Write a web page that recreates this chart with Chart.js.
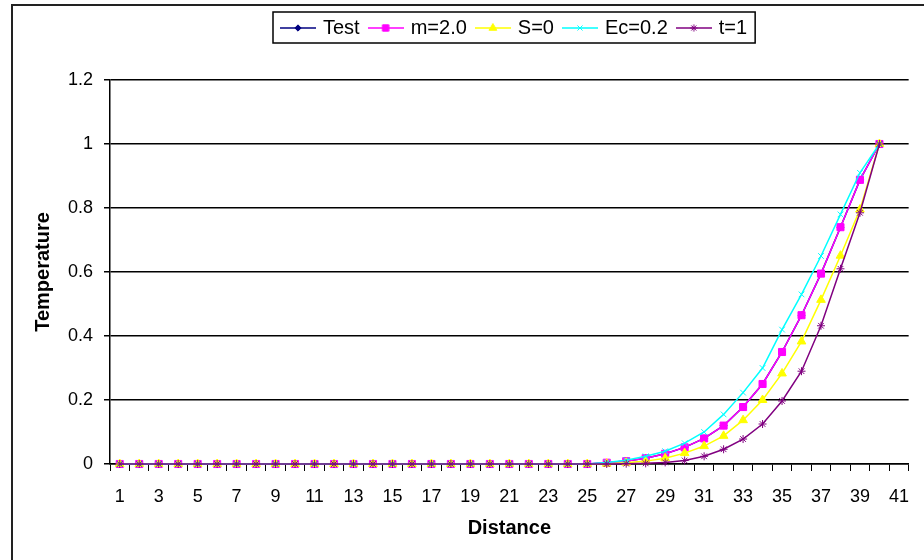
<!DOCTYPE html>
<html lang="en">
<head>
  <meta charset="UTF-8">
  <title>Temperature vs Distance</title>
  <script src="https://cdn.jsdelivr.net/npm/chart.js"></script>
  <style>
    html, body {
      margin: 0;
      padding: 0;
      background: #fff;
    }
    #wrap {
      width: 924px;
      height: 560px;
      position: relative;
    }
  </style>
</head>
<body>
  <div id="wrap"><canvas id="chart"></canvas></div>

  <script>
    // distance categories (the last one carries no data)
    const distance = ['1','2','3','4','5','6','7','8','9','10',
                      '11','12','13','14','15','16','17','18','19','20',
                      '21','22','23','24','25','26','27','28','29','30',
                      '31','32','33','34','35','36','37','38','39','40','41'];

    // temperature values, one per distance 1..40
    const testValues = [0,0,0,0,0,0,0,0,0,0, 0,0,0,0,0,0,0,0,0,0, 0,0,0,0,0,
                        0.004,0.009,0.018,0.032,0.052,0.08,0.12,0.178,0.25,0.35,0.465,0.595,0.74,0.888,1.0];
    const mValues    = [0,0,0,0,0,0,0,0,0,0, 0,0,0,0,0,0,0,0,0,0, 0,0,0,0,0,
                        0.004,0.009,0.018,0.032,0.052,0.08,0.12,0.178,0.25,0.35,0.465,0.595,0.74,0.888,1.0];
    const sValues    = [0,0,0,0,0,0,0,0,0,0, 0,0,0,0,0,0,0,0,0,0, 0,0,0,0,0,
                        0.001,0.004,0.009,0.018,0.034,0.056,0.088,0.137,0.2,0.283,0.383,0.513,0.651,0.795,1.0];
    const ecValues   = [0,0,0,0,0,0,0,0,0,0, 0,0,0,0,0,0,0,0,0,0, 0,0,0,0,0,
                        0.005,0.012,0.024,0.04,0.065,0.1,0.155,0.223,0.3,0.42,0.53,0.65,0.78,0.91,1.0];
    const tValues    = [0,0,0,0,0,0,0,0,0,0, 0,0,0,0,0,0,0,0,0,0, 0,0,0,0,0,
                        0,0.001,0.002,0.005,0.011,0.024,0.046,0.078,0.125,0.197,0.29,0.432,0.61,0.785,1.0];

    const yTicks = [0, 0.2, 0.4, 0.6, 0.8, 1, 1.2];

    const seriesNames   = ['Test', 'm=2.0', 'S=0', 'Ec=0.2', 't=1'];
    const seriesValues  = [testValues, mValues, sValues, ecValues, tValues];
    const seriesColors  = ['#000080', '#ff00ff', '#ffff00', '#00ffff', '#800080'];
    const seriesMarkers = ['rectRot', 'rect', 'triangle', 'crossRot', 'star'];
    const markerRadius  = [3.5, 5, 5, 4, 4];

    const FONT = "Arial, 'Liberation Sans', sans-serif";

    // little line-with-marker pictures for the legend, like the Excel legend
    function makeSymbol(i) {
      const c = document.createElement('canvas');
      c.width = 36;
      c.height = 14;
      const g = c.getContext('2d');
      g.strokeStyle = seriesColors[i];
      g.fillStyle = seriesColors[i];
      g.lineWidth = 1.5;
      g.beginPath();
      g.moveTo(0, 7);
      g.lineTo(36, 7);
      g.stroke();
      g.lineWidth = 1;
      Chart.helpers.drawPoint(g, {pointStyle: seriesMarkers[i], radius: markerRadius[i] * 0.9, rotation: 0, borderWidth: 1}, 18, 7);
      return c;
    }
    const legendSymbols = seriesNames.map((n, i) => makeSymbol(i));

    // make room under the legend and put it where Excel had it
    const legendPlacer = {
      id: 'legendPlacer',
      beforeInit(chart) {
        const fit = chart.legend.fit;
        chart.legend.fit = function () {
          fit.call(this);
          this.height = 73;
        };
      },
      afterLayout(chart) {
        chart.legend.left = 272;
        chart.legend.right = 924;
      }
    };

    // legend frame and outer chart frame
    const frames = {
      id: 'frames',
      afterDraw(chart) {
        const ctx = chart.ctx;
        const hb = chart.legend.legendHitBoxes;
        ctx.save();
        ctx.strokeStyle = '#000';
        ctx.lineWidth = 1.5;
        if (hb && hb.length) {
          const last = hb[hb.length - 1];
          const x0 = hb[0].left - 10;
          const x1 = last.left + last.width + 8;
          const y0 = hb[0].top - 6;
          const y1 = hb[0].top + hb[0].height + 5;
          ctx.strokeRect(x0, y0, x1 - x0, y1 - y0);
        }
        ctx.strokeStyle = '#222';
        ctx.lineWidth = 2;
        ctx.strokeRect(12, 5, 940, 600);
        ctx.restore();
      }
    };

    const datasets = seriesNames.map((name, i) => ({
      label: name,
      data: seriesValues[i],
      borderColor: seriesColors[i],
      backgroundColor: seriesColors[i],
      borderWidth: 1.5,
      pointStyle: seriesMarkers[i],
      pointRadius: markerRadius[i],
      pointBorderWidth: 1,
      tension: 0,
      fill: false,
      clip: false,
      order: seriesNames.length - i
    }));

    new Chart(document.getElementById('chart'), {
      type: 'line',
      data: {
        labels: distance,
        datasets: datasets
      },
      options: {
        responsive: true,
        maintainAspectRatio: false,
        animation: false,
        devicePixelRatio: 1,
        layout: {
          padding: {top: 7, right: 3, left: 0, bottom: 0}
        },
        plugins: {
          tooltip: {enabled: false},
          legend: {
            position: 'top',
            align: 'start',
            labels: {
              usePointStyle: true,
              pointStyleWidth: 30,
              padding: 11,
              color: '#000',
              font: {family: FONT, size: 20},
              generateLabels(chart) {
                const items = Chart.defaults.plugins.legend.labels.generateLabels(chart);
                items.sort((a, b) => a.datasetIndex - b.datasetIndex);
                items.forEach(it => { it.pointStyle = legendSymbols[it.datasetIndex]; });
                return items;
              }
            }
          }
        },
        scales: {
          x: {
            type: 'category',
            offset: true,
            grid: {
              display: true,
              drawOnChartArea: false,
              drawTicks: true,
              tickLength: 7,
              offset: true,
              color: '#000',
              lineWidth: 1
            },
            border: {display: true, color: '#000', width: 1.5},
            ticks: {
              autoSkip: false,
              maxRotation: 0,
              minRotation: 0,
              padding: 15,
              color: '#000',
              font: {family: FONT, size: 18},
              callback: function (v, i) {
                return i % 2 === 0 ? this.getLabelForValue(v) : '';
              }
            },
            title: {
              display: true,
              text: 'Distance',
              color: '#000',
              font: {family: FONT, size: 20, weight: 'bold'},
              padding: {top: 0, bottom: 20}
            },
            afterFit(scale) {
              scale.height = 96;
            }
          },
          y: {
            min: 0,
            max: 1.2,
            afterBuildTicks(scale) {
              scale.ticks = yTicks.map(v => ({value: v}));
            },
            grid: {
              color: '#000',
              lineWidth: 1.5,
              drawTicks: true,
              tickLength: 6
            },
            border: {display: true, color: '#000', width: 1.5},
            ticks: {
              padding: 11,
              color: '#000',
              font: {family: FONT, size: 18},
              callback: v => String(Number(v.toFixed(1)))
            },
            title: {
              display: true,
              text: 'Temperature',
              color: '#000',
              font: {family: FONT, size: 20, weight: 'bold'},
              padding: 31
            },
            afterFit(scale) {
              scale.width = 110;
            }
          }
        }
      },
      plugins: [legendPlacer, frames]
    });
  </script>
</body>
</html>
